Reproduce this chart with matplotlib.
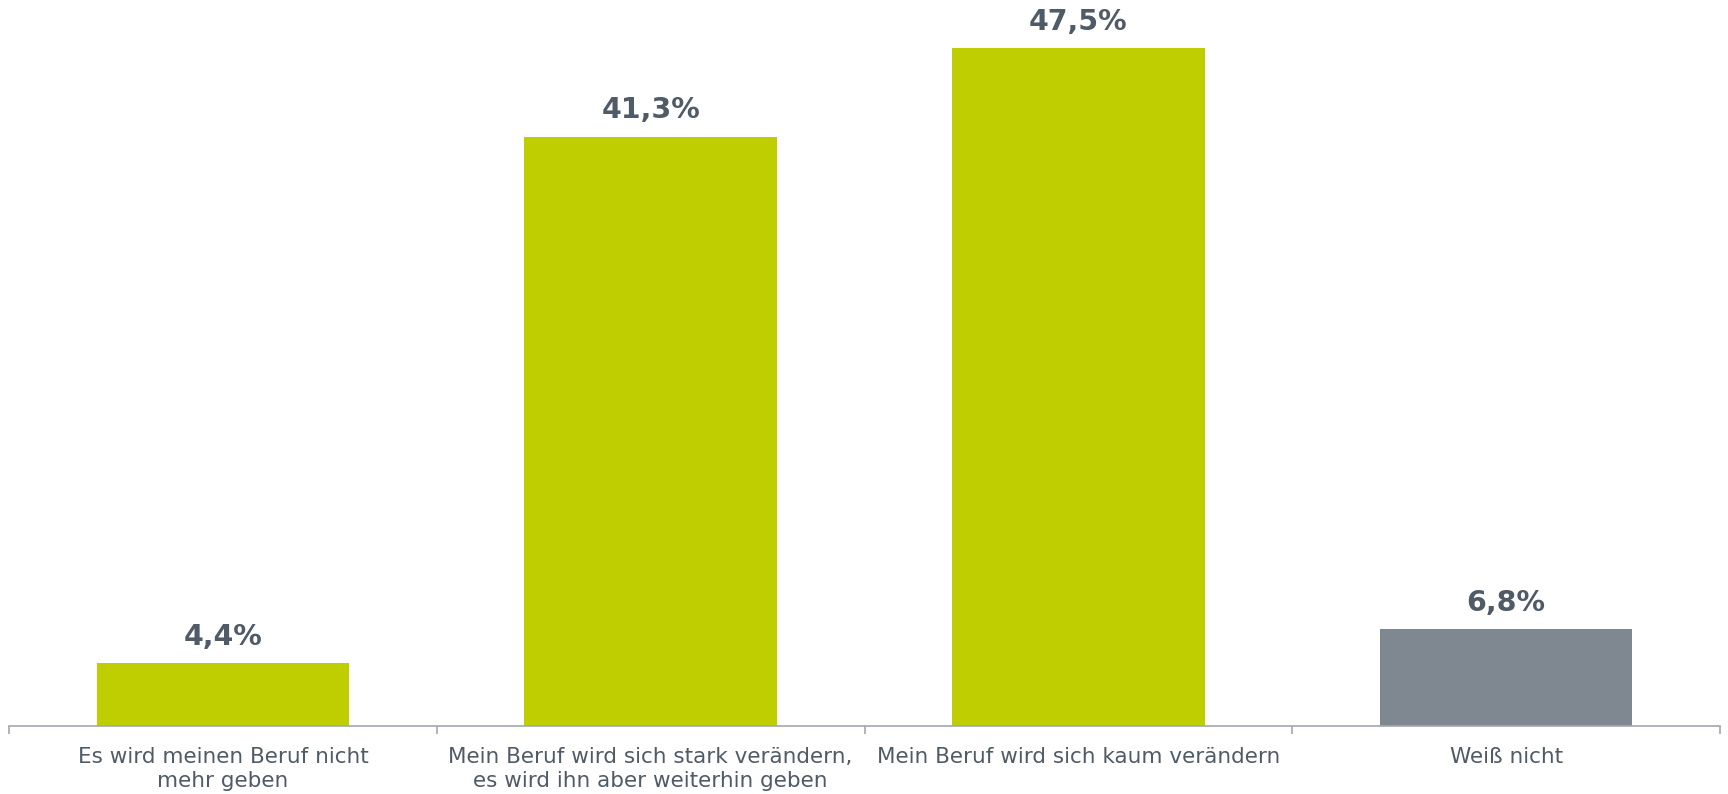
import numpy as np
import matplotlib
matplotlib.use("Agg")
from matplotlib import pyplot as plt

categories = [
    "Es wird meinen Beruf nicht\nmehr geben",
    "Mein Beruf wird sich stark verändern,\nes wird ihn aber weiterhin geben",
    "Mein Beruf wird sich kaum verändern",
    "Weiß nicht",
]
values = [4.4, 41.3, 47.5, 6.8]
value_labels = ["4,4%", "41,3%", "47,5%", "6,8%"]
bar_colors = ["#BFCE00", "#BFCE00", "#BFCE00", "#7F8790"]

text_color = "#4F5B66"
axis_color = "#A3A8AD"

plt.rcParams['font.family'] = ['DejaVu Sans']

fig = plt.figure(figsize=(17.28, 7.94), dpi=100)
ax = fig.add_axes([9 / 1728, 68 / 794, 1711 / 1728, 726 / 794])

x = np.arange(len(values))
ax.bar(x, values, width=0.59, color=bar_colors)

for xi, v, lab in zip(x, values, value_labels):
    ax.annotate(lab, (xi, v), xytext=(0, 9), textcoords="offset points",
                ha="center", va="bottom", fontsize=20.5, fontweight="bold",
                color=text_color)

ax.set_xlim(-0.5, len(values) - 0.5)
ax.set_ylim(0, 50.9)

for s in ["top", "right", "left"]:
    ax.spines[s].set_visible(False)
ax.spines["bottom"].set_color(axis_color)
ax.spines["bottom"].set_linewidth(1.2)
ax.set_yticks([])

ax.set_xticks(x)
ax.set_xticklabels(categories, fontsize=15.5, color=text_color, linespacing=1.28)
ax.tick_params(axis="x", which="major", length=0, pad=15)
ax.set_xticks(np.arange(len(values) + 1) - 0.5, minor=True)
ax.tick_params(axis="x", which="minor", length=6, width=1.2, color=axis_color)

fig.savefig("out.png", dpi=100)
